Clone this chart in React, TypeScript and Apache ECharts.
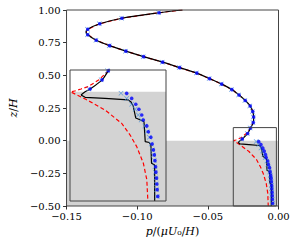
import React, { useEffect, useRef } from "react";
import * as echarts from "echarts";

// ---- axis ranges / ticks ----
const xMainRange = [-0.15, 0];
const xMainInterval = 0.05;
const yMainRange = [-0.5, 1.0];
const yMainInterval = 0.25;
const xInsetRange = [-0.032, -0.0015];
const yInsetRange = [-0.5, 0.1];
const porousTop = 0; // z/H of the porous-bed surface (grey region below)

// ---- black solid line (simulation) ----
const zLineUpper = [1.0, 0.979, 0.937, 0.895, 0.853, 0.832, 0.811, 0.769, 0.727, 0.685, 0.643, 0.601, 0.559, 0.517, 0.475, 0.433, 0.391, 0.349, 0.307, 0.265, 0.223, 0.181, 0.139, 0.097, 0.055, 0.013, 0.0, -0.0145];
const pLineUpper = [-0.068, -0.0845, -0.1108, -0.1265, -0.135, -0.1362, -0.135, -0.129, -0.1195, -0.108, -0.0955, -0.082, -0.07, -0.0578, -0.0488, -0.0402, -0.033, -0.0279, -0.0235, -0.02, -0.0182, -0.0176, -0.0178, -0.0198, -0.0218, -0.0256, -0.0272, -0.0285];
const zLineLower = [-0.0145, -0.025, -0.03, -0.037, -0.045, -0.053, -0.065, -0.08, -0.12, -0.128, -0.137, -0.18, -0.228, -0.232, -0.245, -0.327, -0.335, -0.5];
const pLineLower = [-0.0285, -0.0272, -0.0209, -0.0135, -0.0127, -0.0124, -0.0119, -0.0117, -0.0111, -0.0098, -0.0085, -0.0083, -0.0081, -0.0068, -0.0063, -0.0061, -0.0051, -0.0051];

// ---- red dashed line (model) ----
const zRed = [1.0, 0.979, 0.937, 0.895, 0.853, 0.832, 0.811, 0.769, 0.727, 0.685, 0.643, 0.601, 0.559, 0.517, 0.475, 0.433, 0.391, 0.349, 0.307, 0.265, 0.223, 0.181, 0.139, 0.097, 0.055, 0.024, 0.013, 0.005, 0.0, -0.034, -0.083, -0.144, -0.198, -0.251, -0.327, -0.402, -0.488, -0.5];
const pRed = [-0.068, -0.0845, -0.1108, -0.1265, -0.135, -0.1362, -0.135, -0.129, -0.1195, -0.108, -0.0955, -0.082, -0.07, -0.0578, -0.0488, -0.0402, -0.033, -0.0279, -0.0235, -0.02, -0.0182, -0.0176, -0.018, -0.0198, -0.0228, -0.0262, -0.0285, -0.0302, -0.0318, -0.027, -0.0209, -0.0156, -0.0129, -0.0108, -0.0087, -0.0076, -0.0073, -0.0072];

// ---- blue dots & light-blue crosses ----
const zAbove = [0.979, 0.937, 0.895, 0.853, 0.811, 0.769, 0.727, 0.685, 0.643, 0.601, 0.559, 0.517, 0.475, 0.433, 0.391, 0.349, 0.307, 0.265, 0.223, 0.181, 0.139, 0.097, 0.055, 0.013];
const pDotsAbove = [-0.0845, -0.1108, -0.1265, -0.135, -0.135, -0.129, -0.1195, -0.108, -0.0955, -0.082, -0.07, -0.0578, -0.0488, -0.0402, -0.033, -0.0279, -0.0235, -0.02, -0.0182, -0.0176, -0.0178, -0.0198, -0.0218, -0.0256];
const pCrossAbove = [-0.0848, -0.111, -0.1268, -0.1352, -0.1352, -0.1292, -0.1198, -0.1083, -0.0958, -0.0823, -0.0703, -0.0581, -0.0491, -0.0405, -0.0333, -0.0282, -0.0238, -0.0203, -0.0185, -0.0179, -0.0181, -0.0201, -0.0221, -0.026];
const zBelow = [-0.007, -0.03, -0.057, -0.08, -0.106, -0.129, -0.156, -0.183, -0.208, -0.239, -0.266, -0.289, -0.315, -0.343, -0.368, -0.395, -0.422, -0.448, -0.479];
const pDotsBelow = [-0.014, -0.0124, -0.0111, -0.0101, -0.0092, -0.0087, -0.0076, -0.0071, -0.0063, -0.0059, -0.0055, -0.0052, -0.005, -0.0048, -0.0047, -0.0045, -0.0044, -0.0043, -0.0041];
const pCrossBelow = [-0.0158, -0.014, -0.0124, -0.0113, -0.0103, -0.0094, -0.0082, -0.0075, -0.0068, -0.0062, -0.0058, -0.0055, -0.0052, -0.005, -0.0049, -0.0047, -0.0046, -0.0045, -0.0043];

const FONT = "'DejaVu Serif', 'Liberation Serif', serif";
const CROSS = "path://M0,1L1,0L5,4L9,0L10,1L6,5L10,9L9,10L5,6L1,10L0,9L4,5Z";

const pairs = (ps: number[], zs: number[]) => ps.map((p, i) => [p, zs[i]]);
const box = (xr: number[], yr: number[]) => [
  [xr[0], yr[0]], [xr[1], yr[0]], [xr[1], yr[1]], [xr[0], yr[1]], [xr[0], yr[0]],
];
const fmt = (v: number) =>
  Math.abs(v) < 1e-9 ? "0.00" : (v < 0 ? "\u2212" : "") + Math.abs(v).toFixed(2);

function dataSeries(idx: number, zBase: number) {
  const xr = idx === 0 ? xMainRange : xInsetRange;
  return [
    {
      type: "line", xAxisIndex: idx, yAxisIndex: idx, z: zBase,
      data: [[xr[0], porousTop], [xr[1], porousTop]],
      symbol: "none", lineStyle: { width: 0 },
      areaStyle: { color: "#d3d3d3", opacity: 1, origin: "start" },
    },
    {
      type: "line", xAxisIndex: idx, yAxisIndex: idx, z: zBase + 1,
      data: pairs(pRed, zRed), symbol: "none",
      lineStyle: { color: "#ff0000", width: 1.2, type: [4, 2.5] },
    },
    {
      type: "line", xAxisIndex: idx, yAxisIndex: idx, z: zBase + 2,
      data: pairs(pLineUpper, zLineUpper), symbol: "none", smooth: 0.3,
      lineStyle: { color: "#000", width: 1.2 },
    },
    {
      type: "line", xAxisIndex: idx, yAxisIndex: idx, z: zBase + 2,
      data: pairs(pLineLower, zLineLower), symbol: "none",
      lineStyle: { color: "#000", width: 1.2 },
    },
    {
      type: "scatter", xAxisIndex: idx, yAxisIndex: idx, z: zBase + 3, clip: true,
      data: [...pairs(pCrossAbove, zAbove), ...pairs(pCrossBelow, zBelow)],
      symbol: CROSS, symbolSize: 5, itemStyle: { color: "#4a90d9" },
    },
    {
      type: "scatter", xAxisIndex: idx, yAxisIndex: idx, z: zBase + 4, clip: true,
      data: [...pairs(pDotsAbove, zAbove), ...pairs(pDotsBelow, zBelow)],
      symbol: "circle", symbolSize: 3.6, itemStyle: { color: "#0000ff" },
    },
  ];
}

export default function App() {
  const ref = useRef<HTMLDivElement>(null);
  useEffect(() => {
    if (!ref.current) return;
    const chart = echarts.init(ref.current, null, { renderer: "svg" });
    const labelStyle = { color: "#000", fontFamily: FONT, fontSize: 10 };
    const tick = { show: true, length: 3.5, lineStyle: { color: "#000", width: 0.8 } };
    const nameStyle = {
      color: "#000", fontFamily: FONT, fontSize: 11,
      rich: { i: { fontStyle: "italic", fontFamily: FONT, fontSize: 11, color: "#000" } },
    };
    chart.setOption({
      animation: false,
      backgroundColor: "#fff",
      textStyle: { fontFamily: FONT },
      grid: [
        { left: 58, top: 10, right: 16.5, bottom: 39 },
        { left: 70, top: 70, width: 96, height: 131, show: true, backgroundColor: "#fff", borderWidth: 0, z: 10 },
      ],
      xAxis: [
        {
          type: "value", gridIndex: 0, min: xMainRange[0], max: xMainRange[1], interval: xMainInterval,
          axisLine: { show: false, onZero: false }, axisTick: tick, splitLine: { show: false },
          axisLabel: { ...labelStyle, margin: 5, formatter: fmt },
          name: "{i|p}/({i|\u03bcU}\u2080/{i|H})", nameLocation: "middle", nameGap: 19,
          nameTextStyle: nameStyle,
        },
        { type: "value", gridIndex: 1, min: xInsetRange[0], max: xInsetRange[1], show: false, axisLine: { onZero: false } },
      ],
      yAxis: [
        {
          type: "value", gridIndex: 0, min: yMainRange[0], max: yMainRange[1], interval: yMainInterval,
          axisLine: { show: false, onZero: false }, axisTick: tick, splitLine: { show: false },
          axisLabel: { ...labelStyle, margin: 6, formatter: fmt },
          name: "{i|z}/{i|H}", nameLocation: "middle", nameGap: 40, nameRotate: 90,
          nameTextStyle: nameStyle,
        },
        { type: "value", gridIndex: 1, min: yInsetRange[0], max: yInsetRange[1], show: false, axisLine: { onZero: false } },
      ],
      series: [
        ...dataSeries(0, 1),
        {
          type: "line", xAxisIndex: 0, yAxisIndex: 0, z: 7, data: box(xInsetRange, yInsetRange),
          symbol: "none", clip: false, lineStyle: { color: "#444", width: 1 },
        },
        {
          type: "line", xAxisIndex: 0, yAxisIndex: 0, z: 8, data: box(xMainRange, yMainRange),
          symbol: "none", clip: false, lineStyle: { color: "#444", width: 1 },
        },
        ...dataSeries(1, 11),
        {
          type: "line", xAxisIndex: 1, yAxisIndex: 1, z: 17, data: box(xInsetRange, yInsetRange),
          symbol: "none", clip: false, lineStyle: { color: "#444", width: 1 },
        },
      ],
    });
    return () => chart.dispose();
  }, []);
  return <div ref={ref} style={{ position: "fixed", left: 0, top: 0, width: 295, height: 245 }} />;
}
